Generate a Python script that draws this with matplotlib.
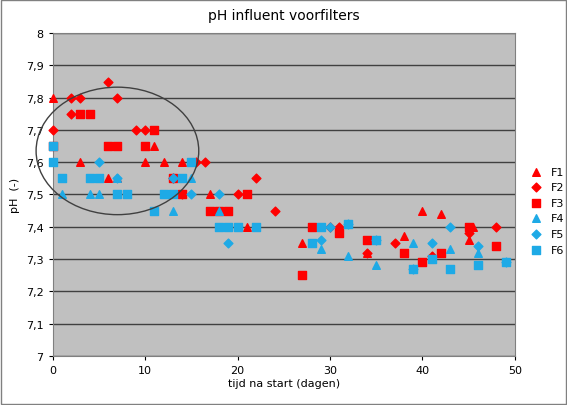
import matplotlib
matplotlib.use("Agg")
import matplotlib.pyplot as plt
from matplotlib.patches import Ellipse

f1_x = [0, 3, 6, 7, 10, 11, 12, 14, 17, 21, 27, 34, 38, 40, 41, 42, 45, 45.5]
f1_y = [7.8, 7.6, 7.55, 7.55, 7.6, 7.65, 7.6, 7.6, 7.5, 7.4, 7.35, 7.32, 7.37, 7.45, 7.31, 7.44, 7.36, 7.4]
f2_x = [0, 2, 2, 3, 6, 7, 9, 10, 13, 14, 15.5, 16.5, 20, 22, 24, 30, 31, 34, 37, 41, 45, 48]
f2_y = [7.7, 7.8, 7.75, 7.8, 7.85, 7.8, 7.7, 7.7, 7.55, 7.5, 7.6, 7.6, 7.5, 7.55, 7.45, 7.4, 7.4, 7.32, 7.35, 7.31, 7.38, 7.4]
f3_x = [0, 3, 4, 6, 7, 10, 11, 13, 14, 17, 18, 19, 21, 27, 28, 31, 34, 38, 40, 42, 45, 48]
f3_y = [7.65, 7.75, 7.75, 7.65, 7.65, 7.65, 7.7, 7.55, 7.5, 7.45, 7.45, 7.45, 7.5, 7.25, 7.4, 7.38, 7.36, 7.32, 7.29, 7.32, 7.4, 7.34]
f4_x = [0, 1, 4, 5, 7, 13, 15, 18, 29, 32, 32, 35, 39, 43, 46, 49]
f4_y = [7.65, 7.5, 7.5, 7.5, 7.55, 7.45, 7.55, 7.45, 7.33, 7.41, 7.31, 7.28, 7.35, 7.33, 7.32, 7.29]
f5_x = [5, 7, 13, 15, 18, 19, 29, 30, 32, 35, 39, 41, 43, 46, 49]
f5_y = [7.6, 7.55, 7.55, 7.5, 7.5, 7.35, 7.36, 7.4, 7.41, 7.36, 7.27, 7.35, 7.4, 7.34, 7.29]
f6_x = [0, 0, 1, 4, 5, 7, 8, 11, 12, 13, 14, 15, 18, 19, 20, 22, 28, 29, 32, 35, 39, 41, 43, 46, 49]
f6_y = [7.65, 7.6, 7.55, 7.55, 7.55, 7.5, 7.5, 7.45, 7.5, 7.5, 7.55, 7.6, 7.4, 7.4, 7.4, 7.4, 7.35, 7.4, 7.41, 7.36, 7.27, 7.3, 7.27, 7.28, 7.29]

red = '#FF0000'
blue = '#1EAAE6'

fig = plt.figure(figsize=(5.67, 4.06), dpi=100)
ax = fig.add_axes([0.093, 0.121, 0.815, 0.795])
ax.set_facecolor('#C0C0C0')
ax.set_axisbelow(True)
ax.grid(axis='y', color='#404040', linewidth=1)

kw = dict(zorder=3, clip_on=False)
ax.scatter(f1_x, f1_y, marker='^', color=red, s=30, label='F1', **kw)
ax.scatter(f2_x, f2_y, marker='D', color=red, s=20, label='F2', **kw)
ax.scatter(f3_x, f3_y, marker='s', color=red, s=30, label='F3', **kw)
ax.scatter(f4_x, f4_y, marker='^', color=blue, s=30, label='F4', **kw)
ax.scatter(f5_x, f5_y, marker='D', color=blue, s=20, label='F5', **kw)
ax.scatter(f6_x, f6_y, marker='s', color=blue, s=30, label='F6', **kw)

ax.add_patch(Ellipse((7.0, 7.635), 17.6, 0.395, fill=False, edgecolor='#404040', linewidth=1, zorder=4, clip_on=False))

ax.set_xlim(0, 50)
ax.set_ylim(7, 8)
ax.set_xticks(range(0, 51, 10))
ax.set_yticks([7 + i / 10 for i in range(11)])
ax.set_yticklabels(['7'] + [f"7,{i}" for i in range(1, 10)] + ['8'])
ax.tick_params(labelsize=8, length=3)
for s in ax.spines.values():
    s.set_color('#808080')
ax.set_xlabel('tijd na start (dagen)', fontsize=8, labelpad=2)
ax.set_ylabel('pH  (-)', fontsize=8)
ax.set_title('pH influent voorfilters', fontsize=10, pad=10)
ax.legend(loc='center left', bbox_to_anchor=(1.0, 0.45), frameon=False, fontsize=8, handletextpad=0.3, labelspacing=0.5)

fig.patches.append(plt.Rectangle((0.002, 0.002), 0.996, 0.996, transform=fig.transFigure, fill=False, edgecolor='#808080', linewidth=1))
fig.savefig('out.png', dpi=100)
